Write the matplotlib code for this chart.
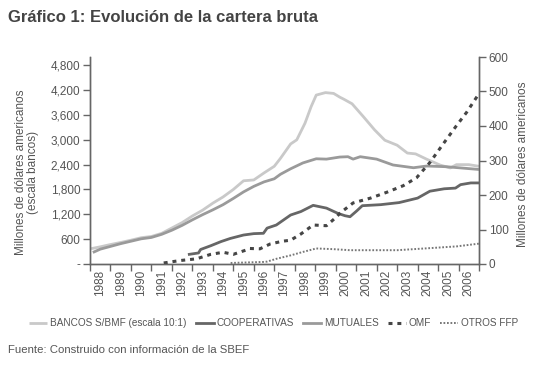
import matplotlib
matplotlib.use("Agg")
import matplotlib.pyplot as plt
from matplotlib.ticker import FixedLocator, FixedFormatter

# Datos (año decimal, millones de USD)
bancos_t = [1988.05, 1988.5, 1989.0, 1989.5, 1990.0, 1990.5, 1991.0, 1991.5, 1992.0, 1992.5,
            1993.0, 1993.5, 1994.0, 1994.5, 1995.0, 1995.5, 1996.0, 1996.5, 1997.0, 1997.3,
            1997.8, 1998.1, 1998.5, 1998.8, 1999.05, 1999.5, 1999.9, 2000.2, 2000.4, 2000.8,
            2001.35, 2001.9, 2002.4, 2003.0, 2003.5, 2003.9, 2004.45, 2005.1, 2005.6, 2005.9,
            2006.5, 2007.0]
bancos_v = [370, 415, 470, 520, 575, 635, 665, 740, 870, 1000,
            1160, 1300, 1470, 1620, 1800, 2010, 2030, 2200, 2360, 2550,
            2900, 3000, 3400, 3800, 4080, 4140, 4120, 4030, 3980, 3870,
            3560, 3240, 2990, 2870, 2680, 2660, 2530, 2390, 2320, 2400,
            2400, 2360]

coop_t = [1992.85, 1993.3, 1993.4, 1993.9, 1994.4, 1994.85, 1995.5, 1996.0, 1996.47, 1996.65,
          1997.1, 1997.8, 1998.3, 1998.9, 1999.55, 2000.1, 2000.45, 2000.7, 2001.03, 2001.3,
          2002.2, 2003.1, 2004.0, 2004.6, 2005.3, 2005.85, 2006.1, 2006.6, 2007.0]
coop_v = [28, 32, 42, 53, 65, 74, 84, 88, 89, 104,
          113, 142, 152, 170, 162, 147, 140, 137, 154, 169,
          172, 178, 191, 211, 218, 220, 230, 235, 235]

mutuales_t = [1988.2, 1988.5, 1989.0, 1989.5, 1990.0, 1990.5, 1991.0, 1991.5, 1992.0, 1992.5,
              1993.0, 1993.5, 1994.0, 1994.5, 1995.0, 1995.5, 1996.0, 1996.5, 1997.0, 1997.3,
              1997.8, 1998.4, 1999.05, 1999.55, 2000.2, 2000.6, 2000.85, 2001.2, 2002.0, 2002.8,
              2003.8, 2004.45, 2005.4, 2007.0]
mutuales_v = [35, 43, 51, 59, 66, 73, 77, 86, 98, 112,
              128, 143, 157, 172, 190, 209, 225, 238, 247, 260,
              276, 293, 305, 304, 310, 311, 304, 311, 304, 287,
              279, 284, 282, 274]

omf_t = [1991.6, 1992.4, 1993.2, 1993.9, 1994.5, 1995.0, 1995.6, 1995.8, 1996.3, 1996.8,
         1997.4, 1997.8, 1998.3, 1998.9, 1999.55, 2000.05, 2000.2, 2000.85, 2001.7, 2002.5,
         2003.3, 2003.95, 2004.6, 2005.25, 2005.9, 2006.4, 2007.0]
omf_v = [3, 10, 15, 28, 34, 28, 40, 45, 44, 58,
         66, 69, 87, 113, 111, 137, 147, 177, 191, 208,
         227, 250, 294, 348, 401, 440, 494]

otros_t = [1994.87, 1996.5, 1996.65, 1997.1, 1997.8, 1998.4, 1999.05, 1999.9, 2000.7, 2003.0,
           2004.6, 2005.9, 2007.0]
otros_v = [3, 6, 7, 15, 25, 35, 45, 43, 40, 40,
           46, 51, 59]

anios = list(range(1988, 2007))
ticks_izq = [0, 600, 1200, 1800, 2400, 3000, 3600, 4200, 4800]
etiquetas_izq = ["-", "600", "1,200", "1,800", "2,400", "3,000", "3,600", "4,200", "4,800"]
ticks_der = [0, 100, 200, 300, 400, 500, 600]

plt.rcParams['font.family'] = ['Liberation Sans', 'DejaVu Sans']
gris_texto = '#555555'
gris_eje = '#666666'

fig = plt.figure(figsize=(5.45, 3.65), dpi=100)
ax = fig.add_axes([90 / 545, 101 / 365, 389 / 545, 207 / 365])
ax2 = ax.twinx()

l_bancos, = ax.plot(bancos_t, bancos_v, color='#c9c9c9', lw=2.0, solid_capstyle='butt',
                    label='BANCOS S/BMF (escala 10:1)')
l_coop, = ax2.plot(coop_t, coop_v, color='#666666', lw=2.0, label='COOPERATIVAS')
l_mut, = ax2.plot(mutuales_t, mutuales_v, color='#9a9a9a', lw=2.0, label='MUTUALES')
l_omf, = ax2.plot(omf_t, omf_v, color='#454545', lw=2.2, linestyle=(0, (1.3, 1.6)), label='OMF')
l_otros, = ax2.plot(otros_t, otros_v, color='#777777', lw=1.4, linestyle=(0, (0.9, 0.9)),
                    label='OTROS FFP')

ax.set_xlim(1988, 2007)
ax.set_ylim(0, 5000)
ax2.set_ylim(0, 600)

# Ejes con estilo de categorías: marcas en los límites de cada año, etiqueta al centro
ax.xaxis.set_major_locator(FixedLocator(list(range(1988, 2008))))
ax.xaxis.set_major_formatter(FixedFormatter([""] * 20))
ax.xaxis.set_minor_locator(FixedLocator([a + 0.5 for a in anios]))
ax.xaxis.set_minor_formatter(FixedFormatter([str(a) for a in anios]))
ax.tick_params(axis='x', which='major', length=5, width=1, color=gris_eje, direction='out')
ax.tick_params(axis='x', which='minor', length=0, labelsize=8.5, labelcolor=gris_texto,
               rotation=90, pad=4)

ax.yaxis.set_major_locator(FixedLocator(ticks_izq))
ax.yaxis.set_major_formatter(FixedFormatter(etiquetas_izq))
ax.tick_params(axis='y', length=5, width=1, color=gris_eje, labelsize=8.5,
               labelcolor=gris_texto, pad=2)

ax2.yaxis.set_major_locator(FixedLocator(ticks_der))
ax2.tick_params(axis='y', length=5, width=1, color=gris_eje, labelsize=8.5,
                labelcolor=gris_texto, pad=2)

for a in (ax, ax2):
    a.spines['top'].set_visible(False)
    for s in ('left', 'bottom', 'right'):
        a.spines[s].set_color(gris_eje)
        a.spines[s].set_linewidth(1)

fig.text(27 / 545, 1 - 172 / 365, "Millones de dólares americanos\n(escala bancos)",
         rotation=90, ha='center', va='center', fontsize=8.5, color=gris_texto,
         multialignment='center', linespacing=1.05)
fig.text(523 / 545, 1 - 164 / 365, "Millones de dólares americanos",
         rotation=90, ha='center', va='center', fontsize=8.5, color=gris_texto)

fig.text(8 / 545, 1 - 18 / 365, "Gráfico 1: Evolución de la cartera bruta",
         ha='left', va='center', fontsize=12, fontweight='bold', color='#444444')
fig.text(8 / 545, 1 - 350 / 365, "Fuente: Construido con información de la SBEF",
         ha='left', va='center', fontsize=8.2, color=gris_texto)

fig.legend(handles=[l_bancos, l_coop, l_mut, l_omf, l_otros],
           loc='center', bbox_to_anchor=(274 / 545, 1 - 323 / 365), ncol=5,
           frameon=False, fontsize=7.2, handlelength=1.8, handletextpad=0.3,
           columnspacing=0.9, labelcolor=gris_texto)

fig.savefig("out.png", dpi=100)
